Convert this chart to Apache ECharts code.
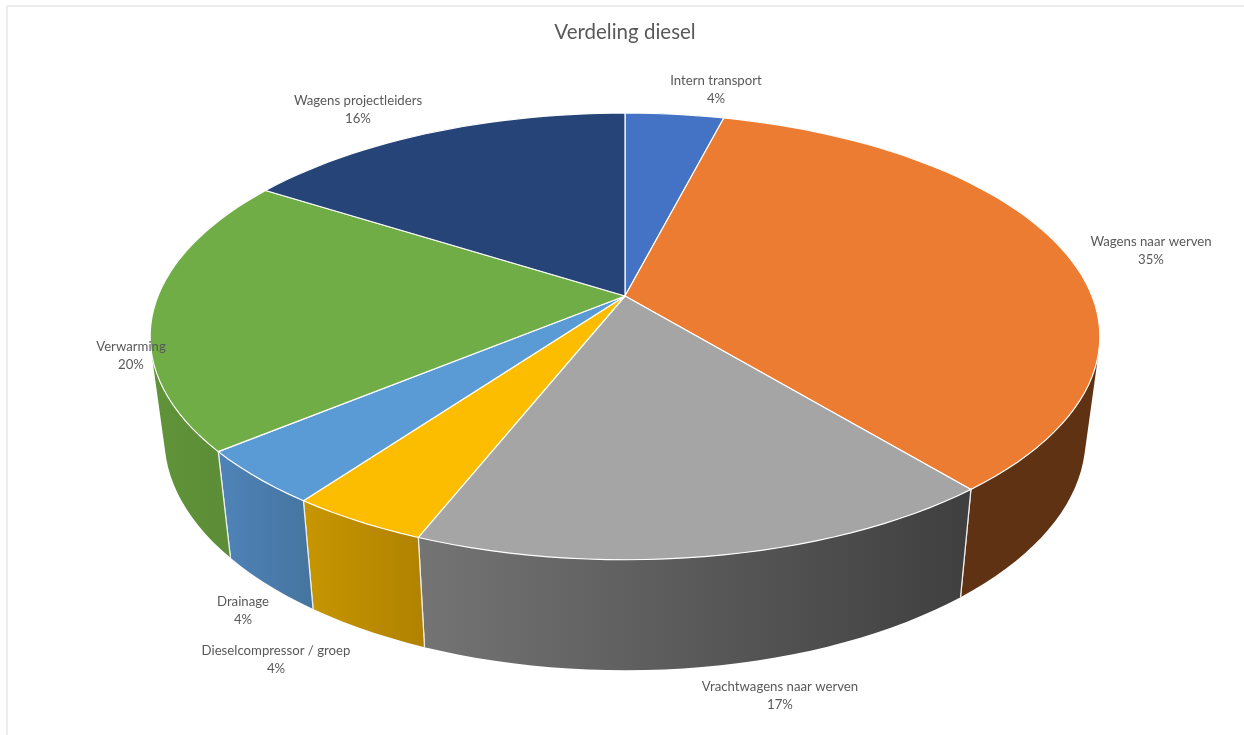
<!DOCTYPE html>
<html>
<head>
<meta charset="utf-8">
<title>Verdeling diesel</title>
<style>html,body{margin:0;padding:0;background:#fff}#chart{width:1244px;height:735px}</style>
<script src="https://cdn.jsdelivr.net/npm/echarts@6/dist/echarts.min.js"></script>
</head>
<body>
<div id="chart"></div>
<script>
// Diesel usage per consumer, in percent, clockwise from twelve o'clock.
const categories = ['Intern transport', 'Wagens naar werven', 'Vrachtwagens naar werven',
  'Dieselcompressor / groep', 'Drainage', 'Verwarming', 'Wagens projectleiders'];
const shares = [4, 35, 17, 4, 4, 20, 16];

const topColors = ['#4472c4', '#eb7c31', '#a5a5a5', '#fcbd00', '#5b9bd5', '#70ad47', '#264478'];
// Wall shading runs from the right-hand side of a slice to its left-hand side.
const wallRight = ['#2a4a80', '#5f3214', '#3f3f3f', '#b08200', '#45749f', '#5a8a35', '#1a2f55'];
const wallLeft = ['#2a4a80', '#5f3214', '#747474', '#c79600', '#4f83b8', '#60933a', '#1a2f55'];

// Centre of each two-line label, in canvas pixels.
const labelCentres = [[716, 90], [1151, 251], [780, 696], [276, 660], [243, 611], [131, 356], [358, 110]];

// Perspective of the disc: the rim is foreshortened towards the back.
const tilt = 0.181;
const bottomScaleX = 0.97, bottomScaleY = 1.04, bottomShift = 0.463;
const arcSteps = 90;

const total = shares.reduce((a, b) => a + b, 0);
let running = 0;
const spans = shares.map(s => { const from = running; running += s; return [from, running]; });

function rim(share, lower) {
  const a = share / total * Math.PI * 2;
  const u = Math.sin(a), v = -Math.cos(a);
  const x = u / (1 - tilt * v), y = v / (1 - tilt * v);
  return lower ? [x * bottomScaleX, y * bottomScaleY + bottomShift] : [x, y];
}

function signedArea(q) {
  let area = 0;
  q.forEach((p, k) => {
    const n = q[(k + 1) % q.length];
    area += p[0] * n[1] - n[0] * p[1];
  });
  return area;
}

function renderWall(params, api) {
  const i = params.dataIndex, from = api.value(0), to = api.value(1);
  const steps = Math.max(6, Math.round((to - from) / 100 * arcSteps * 2));
  const at = (s, lower) => api.coord(rim(from + (to - from) * s / steps, lower));
  const xs = [];
  let d = '';
  const pt = p => p[0].toFixed(2) + ' ' + p[1].toFixed(2);
  // All strips of a wall go into one path, wound alike so the non-zero fill has
  // no seams and still covers the strips that fold over at the disc's silhouette.
  for (let s = 0; s < steps; s++) {
    const corners = [at(s, false), at(s + 1, false), at(s + 1, true), at(s, true)];
    if (signedArea(corners) < 0) corners.reverse();
    corners.forEach(c => xs.push(c[0]));
    d += 'M' + corners.map(pt).join('L') + 'Z';
  }
  const children = [{
    type: 'path',
    shape: { pathData: d },
    style: {
      fill: {
        type: 'linear', global: true,
        x: Math.min.apply(null, xs), y: 0, x2: Math.max.apply(null, xs), y2: 0,
        colorStops: [{ offset: 0, color: wallLeft[i] }, { offset: 1, color: wallRight[i] }]
      }
    }
  }];
  [0, steps].forEach(s => children.push({
    type: 'line',
    shape: { x1: at(s, false)[0], y1: at(s, false)[1], x2: at(s, true)[0], y2: at(s, true)[1] },
    style: { stroke: '#eeeeee', lineWidth: 1.2 }
  }));
  return { type: 'group', children: children };
}

function renderTop(params, api) {
  const i = params.dataIndex, from = api.value(0), to = api.value(1);
  const steps = Math.max(6, Math.round((to - from) / 100 * arcSteps * 2));
  const points = [api.coord([0, 0])];
  for (let s = 0; s <= steps; s++) points.push(api.coord(rim(from + (to - from) * s / steps, false)));
  return {
    type: 'polygon',
    shape: { points: points },
    style: { fill: topColors[i], stroke: '#ffffff', lineWidth: 1.2, lineJoin: 'round' }
  };
}

function renderLabel(params, api) {
  const i = params.dataIndex;
  return {
    type: 'text',
    x: labelCentres[i][0],
    y: labelCentres[i][1],
    style: {
      text: categories[i] + '\n' + shares[i] + '%',
      fill: '#595959',
      font: '13.2px Lato, "Open Sans", sans-serif',
      lineHeight: 18,
      align: 'center',
      verticalAlign: 'middle'
    }
  };
}

const chart = echarts.init(document.getElementById('chart'), null, { renderer: 'canvas' });
chart.setOption({
  animation: false,
  backgroundColor: '#ffffff',
  title: {
    text: 'Verdeling diesel',
    left: 620,
    top: 17,
    textAlign: 'center',
    textStyle: { color: '#595959', fontSize: 20.5, fontWeight: 'normal', fontFamily: 'Lato, "Open Sans", sans-serif' }
  },
  tooltip: { show: false },
  // Disc-space axes: the unit circle sits in this box before perspective.
  grid: { left: 158, width: 934, top: 80, height: 432 },
  xAxis: { type: 'value', min: -1, max: 1, show: false },
  yAxis: { type: 'value', min: -1, max: 1, inverse: true, show: false },
  graphic: [
    { type: 'line', shape: { x1: 7, y1: 6, x2: 1244, y2: 6 }, style: { stroke: '#e6e6e6', lineWidth: 1.5 }, silent: true },
    { type: 'line', shape: { x1: 7, y1: 6, x2: 7, y2: 735 }, style: { stroke: '#e6e6e6', lineWidth: 1.5 }, silent: true }
  ],
  series: [
    { type: 'custom', name: 'wall', z: 2, clip: false, silent: true, data: spans, renderItem: renderWall },
    { type: 'custom', name: 'top', z: 3, clip: false, silent: true, data: spans, renderItem: renderTop },
    { type: 'custom', name: 'labels', z: 4, clip: false, silent: true, data: spans, renderItem: renderLabel }
  ]
});
</script>
</body>
</html>
